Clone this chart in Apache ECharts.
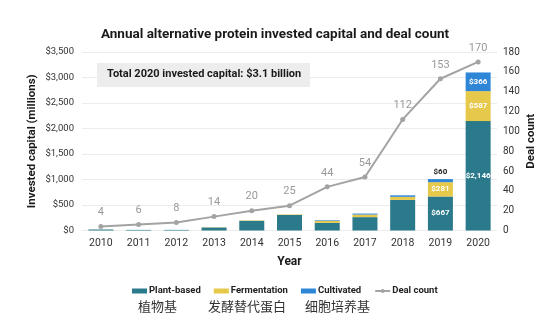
<!DOCTYPE html>
<html><head><meta charset="utf-8">
<script src="https://cdn.jsdelivr.net/npm/echarts@6/dist/echarts.min.js"></script>
<style>html,body{margin:0;padding:0;background:#fff}#c{width:554px;height:323px}</style>
</head><body><div id="c"></div>
<script>
const years = ['2010','2011','2012','2013','2014','2015','2016','2017','2018','2019','2020'];
const plantBased = [20, 12, 12, 60, 190, 305, 150, 262, 600, 667, 2146];
const fermentation = [0, 0, 0, 5, 8, 10, 40, 50, 60, 281, 587];
const cultivated = [0, 0, 0, 0, 0, 0, 12, 20, 30, 60, 366];
const dealCount = [4, 6, 8, 14, 20, 25, 44, 54, 112, 153, 170];
const leftTicks = [0, 500, 1000, 1500, 2000, 2500, 3000, 3500];
const rightTicks = [0, 20, 40, 60, 80, 100, 120, 140, 160, 180];
const labeledYears = ['2019', '2020'];
const cnLabels = ['植物基', '发酵替代蛋白', '细胞培养基'];

const FONT = 'Roboto';
const fmt = v => '$' + v.toLocaleString('en-US');

function barData(arr, topOutsideLabel) {
  return arr.map((v, i) => {
    const item = { value: v };
    if (labeledYears.includes(years[i])) {
      const outside = topOutsideLabel && v < 100;
      item.label = {
        show: true,
        position: outside ? 'top' : 'inside',
        color: outside ? '#222' : '#fff',
        fontSize: 8, fontWeight: 'bold', fontFamily: FONT,
        formatter: p => fmt(p.value),
        distance: 3
      };
    }
    return item;
  });
}

const chart = echarts.init(document.getElementById('c'));
chart.setOption({
  animation: false,
  backgroundColor: '#fff',
  title: {
    text: 'Annual alternative protein invested capital and deal count',
    left: 270, top: 23, textAlign: 'center',
    textStyle: { fontFamily: FONT, fontSize: 13.5, fontWeight: 'bold', color: '#1a1a1a' }
  },
  grid: { left: 82, right: 57, top: 52, bottom: 92.5 },
  legend: {
    left: 127, top: 281, itemGap: 13, itemWidth: 15, itemHeight: 5,
    textStyle: { fontFamily: FONT, fontSize: 9.5, fontWeight: 'bold', color: '#222', padding: [0,0,0,-3] },
    data: [
      { name: 'Plant-based', icon: 'rect' },
      { name: 'Fermentation', icon: 'rect' },
      { name: 'Cultivated', icon: 'rect' },
      { name: 'Deal count' }
    ]
  },
  xAxis: {
    type: 'category', data: years,
    name: 'Year', nameLocation: 'middle', nameGap: 25,
    nameTextStyle: { fontFamily: FONT, fontSize: 12, fontWeight: 'bold', color: '#1a1a1a' },
    axisLine: { show: false }, axisTick: { show: false },
    axisLabel: { fontFamily: FONT, fontSize: 10.5, color: '#333', margin: 7 }
  },
  yAxis: [
    {
      type: 'value', min: leftTicks[0], max: leftTicks[leftTicks.length - 1], interval: leftTicks[1] - leftTicks[0],
      name: 'Invested capital (millions)', nameLocation: 'middle', nameGap: 44, nameMoveOverlap: false,
      nameTextStyle: { fontFamily: FONT, fontSize: 11.5, fontWeight: 'bold', color: '#1a1a1a' },
      axisLabel: { fontFamily: FONT, fontSize: 9.5, color: '#333', formatter: fmt, margin: 8 },
      splitLine: { lineStyle: { color: '#ececec' } },
      axisLine: { show: false }, axisTick: { show: false }
    },
    {
      type: 'value', min: rightTicks[0], max: rightTicks[rightTicks.length - 1], interval: rightTicks[1] - rightTicks[0],
      name: 'Deal count', nameLocation: 'middle', nameGap: 28, nameRotate: 90, nameMoveOverlap: false,
      nameTextStyle: { fontFamily: FONT, fontSize: 11.5, fontWeight: 'bold', color: '#1a1a1a' },
      axisLabel: { fontFamily: FONT, fontSize: 10, color: '#333', margin: 6 },
      splitLine: { show: false },
      axisLine: { show: false }, axisTick: { show: false }
    }
  ],
  series: [
    { name: 'Plant-based', type: 'bar', stack: 'cap', barWidth: 25, data: barData(plantBased, false), itemStyle: { color: '#2b7a8b' } },
    { name: 'Fermentation', type: 'bar', stack: 'cap', barWidth: 25, data: barData(fermentation, false), itemStyle: { color: '#e6c94b' } },
    { name: 'Cultivated', type: 'bar', stack: 'cap', barWidth: 25, data: barData(cultivated, true), itemStyle: { color: '#2f86d6' } },
    {
      name: 'Deal count', type: 'line', yAxisIndex: 1, data: dealCount,
      symbol: 'circle', symbolSize: 5,
      lineStyle: { color: '#a3a3a3', width: 2 }, itemStyle: { color: '#a3a3a3' },
      label: { show: true, position: 'top', distance: 6, color: '#999', fontFamily: FONT, fontSize: 11 },
      z: 5
    }
  ],
  graphic: [
    { type: 'rect', left: 97, top: 63, shape: { width: 213, height: 24 }, style: { fill: '#ededed' }, z: 10 },
    { type: 'text', left: 107, top: 69, style: { text: 'Total 2020 invested capital: $3.1 billion', font: 'bold 11px ' + FONT, fill: '#1a1a1a' }, z: 11 },
    { type: 'text', left: 138, top: 300, style: { text: cnLabels[0], font: '13px "Noto Sans CJK SC"', fill: '#333' } },
    { type: 'text', left: 208, top: 300, style: { text: cnLabels[1], font: '13px "Noto Sans CJK SC"', fill: '#333' } },
    { type: 'text', left: 305, top: 300, style: { text: cnLabels[2], font: '13px "Noto Sans CJK SC"', fill: '#333' } }
  ]
});
</script></body></html>
